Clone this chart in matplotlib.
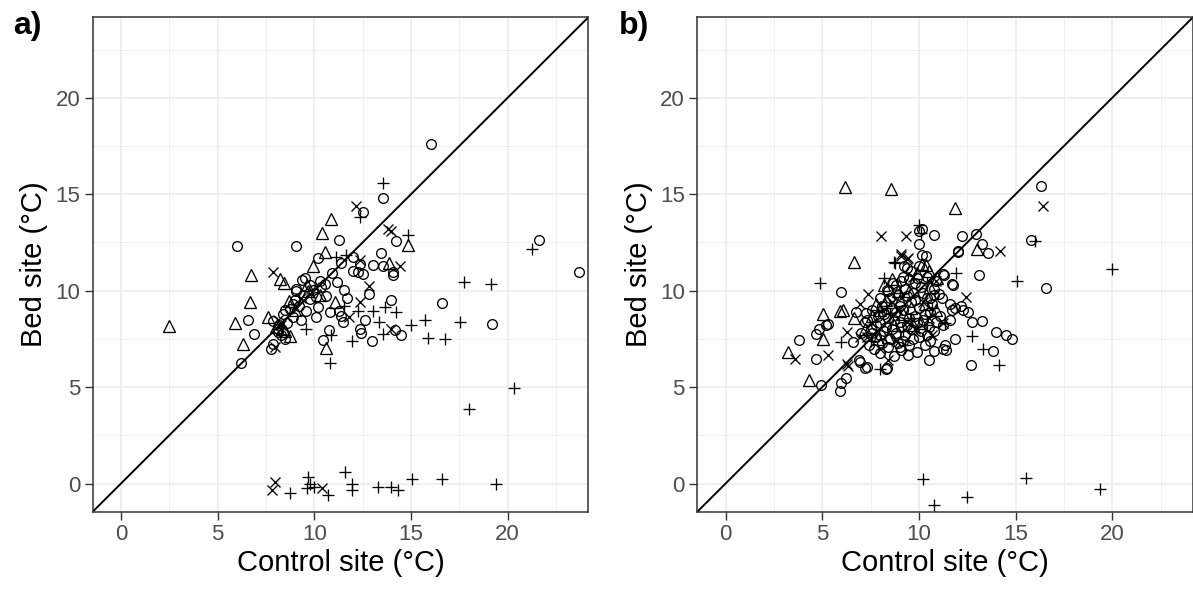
import matplotlib
matplotlib.use("Agg")
import matplotlib.pyplot as plt
import numpy as np

plt.rcParams['font.family'] = ['Liberation Sans', 'DejaVu Sans']

# ---- panel a) ----
a_circ_x = [16.03, 13.57, 12.54, 11.27, 5.98, 9.07, 14.23, 10.19, 11.99, 11.39, 12.37, 13.45, 13.02,
            12.25, 12.51, 13.57, 14.05, 14.05, 9.38, 10.53, 10.36, 11.17, 11.56, 12.85, 9.07, 9.93,
            9.41, 9.76, 10.1, 10.6, 8.73, 9.59, 10.19, 10.79, 11.3, 11.39, 13.97, 16.63, 6.58, 7.87,
            8.38, 8.2, 8.9, 10.07, 11.48, 12.6, 12.34, 12.43, 14.19, 14.48, 6.89, 8.1, 8.47, 7.78,
            7.87, 10.44, 10.75, 12.97, 6.19, 21.61, 23.68, 19.2, 9.05, 9.52, 8.9, 9.3, 8.6, 10.9,
            12.0, 11.7, 8.1, 8.5, 9.0, 9.8, 10.3, 8.3, 9.2]
a_circ_y = [17.6, 14.8, 14.1, 12.62, 12.31, 12.31, 12.57, 11.67, 11.72, 11.46, 11.37, 11.94, 11.32,
            10.98, 10.84, 11.28, 10.98, 10.8, 10.57, 10.34, 10.17, 10.43, 10.03, 9.83, 10.08, 10.06,
            9.75, 9.58, 9.66, 9.7, 9.06, 8.97, 9.14, 8.89, 8.97, 8.71, 9.54, 9.37, 8.46, 8.41,
            8.8, 8.2, 8.63, 8.66, 8.37, 8.46, 8.03, 7.82, 7.94, 7.69, 7.77, 7.86, 7.52, 7.0,
            7.25, 7.43, 7.94, 7.4, 6.27, 12.62, 10.95, 8.29, 10.0, 10.65, 9.3, 8.5, 8.3, 10.9,
            11.0, 9.6, 8.0, 9.0, 9.5, 10.3, 10.5, 7.7, 9.2]

a_tri_x = [10.88, 10.39, 14.86, 10.58, 13.88, 9.93, 6.75, 8.21, 8.42, 9.6, 6.66, 8.69, 10.3, 11.05,
           5.89, 7.61, 8.38, 8.73, 6.32, 10.62, 2.48, 8.0, 9.0, 9.7, 8.5]
a_tri_y = [13.7, 12.97, 12.35, 12.0, 11.42, 11.28, 10.81, 10.6, 10.4, 10.3, 9.4, 9.49, 9.75, 9.4,
           8.34, 8.63, 8.03, 7.66, 7.21, 7.04, 8.17, 8.1, 9.0, 10.0, 7.9]

a_cross_x = [12.16, 13.83, 13.97, 12.39, 14.43, 7.87, 12.85, 12.34, 8.1, 11.82, 13.97, 7.95,
             7.97, 7.8, 10.38, 8.3, 9.3]
a_cross_y = [14.4, 13.2, 13.09, 11.59, 11.28, 10.95, 10.26, 9.4, 8.5, 8.66, 8.03, 7.08,
             0.09, -0.34, -0.25, 8.2, 9.6]

a_plus_x = [13.54, 12.37, 14.83, 11.13, 11.65, 11.56, 12.25, 13.02, 13.68, 14.23, 13.37, 13.54,
            15.0, 15.74, 15.86, 16.77, 9.59, 10.88, 11.96, 10.79, 17.75, 19.12, 21.24, 17.54,
            20.32, 18.0, 8.74, 9.69, 9.78, 9.6, 10.0, 10.72, 11.59, 11.93, 11.93, 13.28, 13.97,
            14.31, 15.05, 16.63, 19.41]
a_plus_y = [15.6, 13.8, 12.9, 11.72, 11.84, 9.23, 8.97, 8.97, 9.14, 8.89, 8.37, 7.77,
            8.2, 8.46, 7.55, 7.48, 8.03, 7.69, 7.4, 6.23, 10.43, 10.34, 12.14, 8.37,
            4.98, 3.88, -0.48, 0.35, 0.0, -0.25, -0.2, -0.6, 0.61, 0.0, -0.34, -0.2, -0.2,
            -0.33, 0.23, 0.23, 0.0]

# ---- panel b) ----
b_circ_x = [16.32, 15.8, 16.55, 14.48, 14.82, 10.14, 10.02, 10.79, 12.22, 12.94, 10.02, 13.25,
            13.59, 12.03, 10.14, 9.24, 11.25, 13.11, 11.73, 5.98, 11.05, 11.6, 12.2, 11.73, 12.56,
            12.76, 13.25, 11.6, 5.29, 4.84, 4.66, 3.79, 4.66, 6.75, 13.97, 13.83, 12.68, 11.87,
            11.35, 11.27, 10.79, 10.53, 9.46, 8.29, 4.94, 6.24, 5.98, 5.91, 6.92, 7.3, 9.36, 10.36,
            12.03, 11.77, 11.29, 10.9, 8.67, 9.1, 9.88, 8.33, 11.86, 12.3, 7.29, 11.27, 6.6, 11.4,
            9.0, 8.33, 7.2, 6.95, 8.0, 5.2,
            7.5, 7.8, 8.0, 8.2, 8.4, 8.6, 8.8, 9.0, 9.2, 9.4, 9.6, 9.8, 10.0, 10.2, 10.4, 10.6,
            8.1, 8.5, 8.9, 9.3, 9.7, 10.1, 7.4, 7.7, 8.1, 8.5, 8.9, 9.3, 9.7, 10.1, 10.5, 7.0,
            7.2, 9.1, 9.9, 8.7, 10.3, 9.5, 10.8, 10.9,
            7.3, 7.6, 7.9, 8.3, 8.7, 9.1, 9.5, 9.9, 10.3, 10.7, 8.0, 8.4, 8.8, 9.2, 9.6, 10.0,
            10.4, 10.8, 11.2, 7.6, 8.0, 8.4, 8.8, 9.2, 9.6, 10.0, 10.4, 10.8, 11.1, 9.0, 9.4, 9.8,
            10.2, 10.6, 8.6, 8.2, 7.8, 9.5, 10.6, 9.8]
b_circ_y = [15.43, 12.65, 10.13, 7.68, 7.47, 13.2, 13.1, 12.9, 12.82, 12.94, 12.44, 12.44,
            11.93, 12.05, 11.83, 11.28, 10.85, 10.8, 10.33, 9.94, 9.82, 9.31, 9.22, 9.0, 8.9,
            8.39, 8.44, 8.5, 8.28, 8.02, 7.76, 7.45, 6.47, 8.88, 7.85, 6.85, 6.17, 7.47,
            7.2, 7.0, 6.85, 6.39, 6.64, 5.96, 5.1, 5.48, 5.19, 4.79, 6.39, 6.05, 11.17, 11.8,
            11.98, 10.3, 10.82, 10.52, 10.42, 10.5, 10.65, 10.04, 9.1, 9.0, 8.83, 8.2, 7.36, 6.92,
            7.1, 5.98, 5.98, 6.32, 6.76, 8.2,
            8.0, 7.6, 8.3, 7.9, 8.6, 8.0, 8.9, 8.4, 9.0, 8.2, 9.4, 8.7, 9.1, 8.5, 9.6, 8.9,
            9.2, 9.6, 9.8, 10.1, 9.9, 10.2, 7.2, 7.0, 7.3, 7.5, 7.3, 7.7, 7.5, 7.9, 8.1, 7.8,
            8.4, 6.9, 6.8, 6.6, 7.2, 10.6, 9.8, 8.4,
            8.5, 9.0, 8.7, 8.1, 8.5, 8.1, 8.6, 8.3, 8.8, 9.3, 9.6, 10.0, 10.3, 10.7, 11.0, 11.3,
            10.7, 10.1, 9.6, 7.8, 7.7, 7.1, 7.8, 7.4, 8.0, 7.6, 7.7, 7.9, 8.7, 9.2, 9.7, 9.5,
            9.9, 9.6, 9.1, 8.8, 8.2, 7.2, 7.4, 10.4]

b_tri_x = [6.19, 8.56, 11.86, 13.02, 10.14, 6.66, 10.96, 5.03, 5.94, 5.03, 3.23, 4.31, 10.36,
           6.05, 6.62, 7.6, 8.3, 9.0, 9.7, 10.3, 8.7, 9.5, 10.6, 7.9, 8.6,
           7.2, 8.0, 8.9, 9.9, 10.5, 9.2, 10.1, 8.4, 7.8, 10.9, 9.6, 8.2]
b_tri_y = [15.36, 15.26, 14.28, 12.17, 11.36, 11.48, 10.68, 8.79, 8.96, 7.5, 6.82, 5.36, 11.34,
           9.0, 8.57, 8.7, 9.5, 9.5, 8.2, 9.3, 8.2, 10.0, 10.2, 7.5, 10.6,
           8.0, 9.0, 10.0, 10.9, 11.0, 8.8, 8.3, 7.6, 9.3, 9.0, 9.1, 10.3]

b_cross_x = [8.04, 9.33, 14.22, 16.41, 9.07, 9.4, 7.35, 6.93, 12.42, 11.25, 3.57, 5.29, 6.3,
             9.1, 9.45, 6.26, 6.95, 10.66, 6.35, 8.41, 8.9, 9.8, 10.5, 8.0,
             7.6, 8.6, 9.4, 10.2, 8.8, 10.9, 9.7, 7.3]
b_cross_y = [12.82, 12.82, 12.05, 14.4, 11.88, 11.62, 9.82, 9.31, 9.65, 8.33, 6.47, 6.64, 6.2,
             11.8, 11.7, 7.88, 7.62, 7.71, 6.1, 6.41, 9.0, 8.0, 8.6, 7.0,
             8.3, 9.4, 8.4, 9.4, 7.4, 10.5, 10.7, 7.6]

b_plus_x = [10.02, 10.1, 8.73, 8.21, 11.91, 15.08, 4.86, 12.73, 13.31, 14.14, 8.0, 5.98, 16.03,
            19.98, 8.76, 11.35, 10.19, 10.78, 12.5, 15.55, 19.38, 9.6, 10.4, 8.5, 7.5, 9.2,
            8.3, 9.0, 10.7, 9.3, 7.9, 10.4]
b_plus_y = [13.42, 13.0, 11.48, 10.68, 10.94, 10.5, 10.42, 7.64, 6.99, 6.13, 5.96, 7.36, 12.57,
            11.14, 11.43, 8.31, 0.22, -1.12, -0.72, 0.27, -0.3, 8.6, 8.2, 8.8, 7.4, 7.9,
            9.1, 9.9, 9.1, 7.2, 8.9, 10.4]

lims = (-1.46, 24.17)
ticks = [0, 5, 10, 15, 20]


def draw_panel(ax, circ, tri, cross, plus):
    ax.set_xlim(lims)
    ax.set_ylim(lims)
    ax.set_xticks(ticks)
    ax.set_yticks(ticks)
    ax.set_xticks(np.arange(2.5, 24, 5), minor=True)
    ax.set_yticks(np.arange(2.5, 24, 5), minor=True)
    ax.grid(which='major', color='#EBEBEB', lw=1.1, zorder=0)
    ax.grid(which='minor', color='#EBEBEB', lw=0.55, zorder=0)
    ax.tick_params(which='minor', length=0)
    ax.tick_params(which='major', length=5.5, width=1.0, color='#333333',
                   labelsize=16, labelcolor='#4D4D4D', pad=3.5)
    for s in ax.spines.values():
        s.set_color('#333333')
        s.set_linewidth(1.1)
    ax.set_axisbelow(True)

    ax.plot(lims, lims, color='black', lw=1.4, zorder=2)

    kw = dict(linestyle='none', color='black', mfc='none', mew=0.95, zorder=3)
    ax.plot(circ[0], circ[1], marker='o', ms=7.0, **kw)
    ax.plot(tri[0], tri[1], marker='^', ms=8.6, **kw)
    ax.plot(cross[0], cross[1], marker='x', ms=7.2, **kw)
    ax.plot(plus[0], plus[1], marker='+', ms=9.0, **kw)

    ax.set_xlabel('Control site (°C)', fontsize=21, labelpad=3)
    ax.set_ylabel('Bed site (°C)', fontsize=21, labelpad=5)


fig = plt.figure(figsize=(11.93, 5.96), dpi=100)
ax_a = fig.add_axes([0.0777, 0.1414, 0.4154, 0.8295])
ax_b = fig.add_axes([0.5845, 0.1414, 0.4154, 0.8295])

draw_panel(ax_a, (a_circ_x, a_circ_y), (a_tri_x, a_tri_y),
           (a_cross_x, a_cross_y), (a_plus_x, a_plus_y))
draw_panel(ax_b, (b_circ_x, b_circ_y), (b_tri_x, b_tri_y),
           (b_cross_x, b_cross_y), (b_plus_x, b_plus_y))

fig.text(0.011, 0.982, 'a)', fontsize=23, fontweight='bold', va='top', ha='left')
fig.text(0.519, 0.982, 'b)', fontsize=23, fontweight='bold', va='top', ha='left')

fig.savefig('out.png', dpi=100)
